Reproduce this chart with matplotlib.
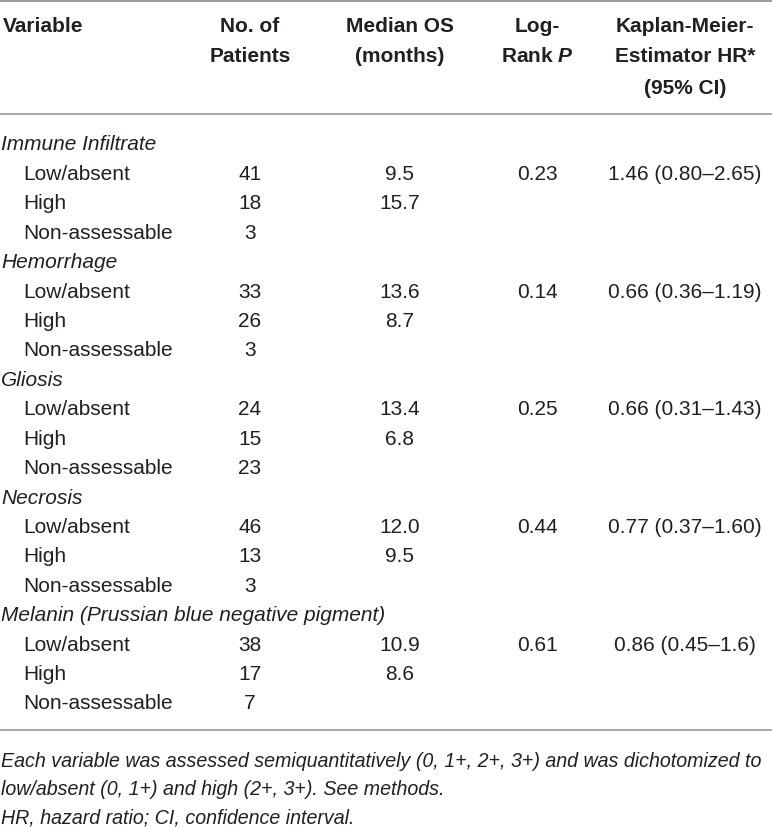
import matplotlib.pyplot as plt

plt.rcParams['font.family'] = ['Liberation Sans', 'DejaVu Sans']
plt.rcParams['mathtext.fontset'] = 'custom'
plt.rcParams['mathtext.bfit'] = 'Liberation Sans:italic:bold'
plt.rcParams['mathtext.it'] = 'Liberation Sans:italic'

# table data
groups = ['Immune Infiltrate', 'Hemorrhage', 'Gliosis', 'Necrosis',
          'Melanin (Prussian blue negative pigment)']
levels = ['Low/absent', 'High', 'Non-assessable']
patients = [[41, 18, 3], [33, 26, 3], [24, 15, 23], [46, 13, 3], [38, 17, 7]]
median_os = [['9.5', '15.7', ''], ['13.6', '8.7', ''], ['13.4', '6.8', ''],
             ['12.0', '9.5', ''], ['10.9', '8.6', '']]
logrank_p = ['0.23', '0.14', '0.25', '0.44', '0.61']
hr_ci = ['1.46 (0.80\u20132.65)', '0.66 (0.36\u20131.19)', '0.66 (0.31\u20131.43)',
         '0.77 (0.37\u20131.60)', '0.86 (0.45\u20131.6)']
footnotes = ['Each variable was assessed semiquantitatively (0, 1+, 2+, 3+) and was dichotomized to',
             'low/absent (0, 1+) and high (2+, 3+). See methods.',
             'HR, hazard ratio; CI, confidence interval.']

txt = '#231f20'
linec = '#9a9a9a'
fs = 15

fig = plt.figure(figsize=(7.72, 8.28), dpi=100)
ax = fig.add_axes([0, 0, 1, 1])
ax.set_xlim(0, 772)
ax.set_ylim(828, 0)
ax.axis('off')

# column centres
x_var, x_sub = 1, 23
x_n, x_os, x_p, x_hr = 250, 400, 537, 685

# header
hy = [26, 57, 88]
hkw = dict(fontsize=fs, fontweight='bold', color=txt, va='center')
ax.text(x_var + 2, hy[0], 'Variable', ha='left', **hkw)
ax.text(x_n, hy[0], 'No. of', ha='center', **hkw)
ax.text(x_n, hy[1], 'Patients', ha='center', **hkw)
ax.text(x_os, hy[0], 'Median OS', ha='center', **hkw)
ax.text(x_os, hy[1], '(months)', ha='center', **hkw)
ax.text(x_p, hy[0], 'Log-', ha='center', **hkw)
ax.text(x_p, hy[1], r'Rank $\mathbfit{P}$', ha='center', **hkw)
ax.text(x_hr, hy[0], 'Kaplan-Meier-', ha='center', **hkw)
ax.text(x_hr, hy[1], 'Estimator HR*', ha='center', **hkw)
ax.text(x_hr, hy[2], '(95% CI)', ha='center', **hkw)

# rules
ax.axhline(1.5, color=linec, lw=1.4)
ax.axhline(115, color=linec, lw=1.2)
ax.axhline(731, color=linec, lw=1.2)

# body
y0, dy = 145, 29.42
row = 0
kw = dict(fontsize=fs, color=txt, va='center')
for g, name in enumerate(groups):
    y = y0 + row * dy
    ax.text(x_var, y, name, ha='left', style='italic', **kw)
    row += 1
    for k, lev in enumerate(levels):
        y = y0 + row * dy
        ax.text(x_sub, y, lev, ha='left', **kw)
        ax.text(x_n, y, str(patients[g][k]), ha='center', **kw)
        ax.text(x_os, y, median_os[g][k], ha='center', **kw)
        if k == 0:
            ax.text(x_p, y, logrank_p[g], ha='center', **kw)
            ax.text(x_hr, y, hr_ci[g], ha='center', **kw)
        row += 1

# footnotes
for i, line in enumerate(footnotes):
    ax.text(x_var, 762 + i * 28, line, ha='left', style='italic',
            fontsize=14.1, color=txt, va='center')

fig.savefig('out.png', dpi=100)
